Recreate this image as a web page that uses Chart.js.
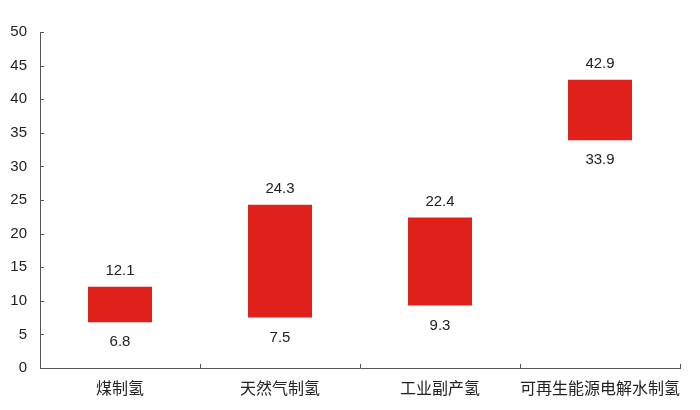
<!DOCTYPE html>
<html>
<head>
<meta charset="utf-8">
<script src="https://cdn.jsdelivr.net/npm/chart.js@4/dist/chart.umd.min.js"></script>
<style>
  html, body { margin: 0; padding: 0; background: #fff; }
  #wrap { width: 700px; height: 410px; }
</style>
</head>
<body>
<div id="wrap"><canvas id="chartId" width="700" height="410"></canvas></div>
<script>
// hydrogen cost ranges per route
const categories = ["煤制氢", "天然气制氢", "工业副产氢", "可再生能源电解水制氢"];
const lowValues = [6.8, 7.5, 9.3, 33.9];
const highValues = [12.1, 24.3, 22.4, 42.9];
const yTicks = [0, 5, 10, 15, 20, 25, 30, 35, 40, 45, 50];

const FONT = "'Liberation Sans', 'Noto Sans CJK SC', sans-serif";
const AXIS_COLOR = "#555";

// labels above / below each floating bar
const rangeLabels = {
  id: "rangeLabels",
  afterDatasetsDraw(chart) {
    const ctx = chart.ctx;
    const y = chart.scales.y;
    const meta = chart.getDatasetMeta(0);
    ctx.save();
    ctx.font = "15px " + FONT;
    ctx.fillStyle = "#222";
    ctx.textAlign = "center";
    ctx.textBaseline = "middle";
    meta.data.forEach((bar, i) => {
      ctx.fillText(highValues[i].toFixed(1), bar.x, y.getPixelForValue(highValues[i]) - 16);
      ctx.fillText(lowValues[i].toFixed(1), bar.x, y.getPixelForValue(lowValues[i]) + 20);
    });
    ctx.restore();
  },
};

// small tick marks pointing into the plot area
const innerTicks = {
  id: "innerTicks",
  afterDraw(chart) {
    const ctx = chart.ctx;
    const { x, y } = chart.scales;
    const area = chart.chartArea;
    ctx.save();
    ctx.strokeStyle = AXIS_COLOR;
    ctx.lineWidth = 1;
    ctx.beginPath();
    yTicks.forEach((v) => {
      const py = Math.round(y.getPixelForValue(v)) + 0.5;
      ctx.moveTo(area.left, py);
      ctx.lineTo(area.left + 4, py);
    });
    const half = (x.getPixelForValue(1) - x.getPixelForValue(0)) / 2;
    for (let i = 0; i <= categories.length; i++) {
      const px = Math.round(x.getPixelForValue(i) - half) + 0.5;
      ctx.moveTo(px, area.bottom);
      ctx.lineTo(px, area.bottom - 4);
    }
    ctx.stroke();
    ctx.restore();
  },
};

const ctx = document.getElementById("chartId");
new Chart(ctx, {
  type: "bar",
  data: {
    labels: categories,
    datasets: [
      {
        data: categories.map((c, i) => [lowValues[i], highValues[i]]),
        backgroundColor: "#e0211b",
        borderWidth: 0,
        barPercentage: 0.4,
        categoryPercentage: 1,
      },
    ],
  },
  options: {
    responsive: false,
    animation: false,
    layout: { padding: { top: 32, right: 20, left: 0, bottom: 0 } },
    plugins: { legend: { display: false }, tooltip: { enabled: false } },
    scales: {
      x: {
        offset: true,
        afterFit: (s) => { s.height = 42; },
        grid: { display: false, drawTicks: false },
        border: { color: AXIS_COLOR, width: 1 },
        ticks: {
          font: { size: 16, family: FONT },
          color: "#222",
          padding: 12,
          maxRotation: 0,
          minRotation: 0,
          autoSkip: false,
        },
      },
      y: {
        min: 0,
        max: 50,
        afterFit: (s) => { s.width = 40; },
        afterBuildTicks: (s) => { s.ticks = yTicks.map((v) => ({ value: v })); },
        grid: { display: false, drawTicks: false },
        border: { color: AXIS_COLOR, width: 1 },
        ticks: { font: { size: 15, family: FONT }, color: "#222", padding: 13 },
      },
    },
  },
  plugins: [rangeLabels, innerTicks],
});
</script>
</body>
</html>
